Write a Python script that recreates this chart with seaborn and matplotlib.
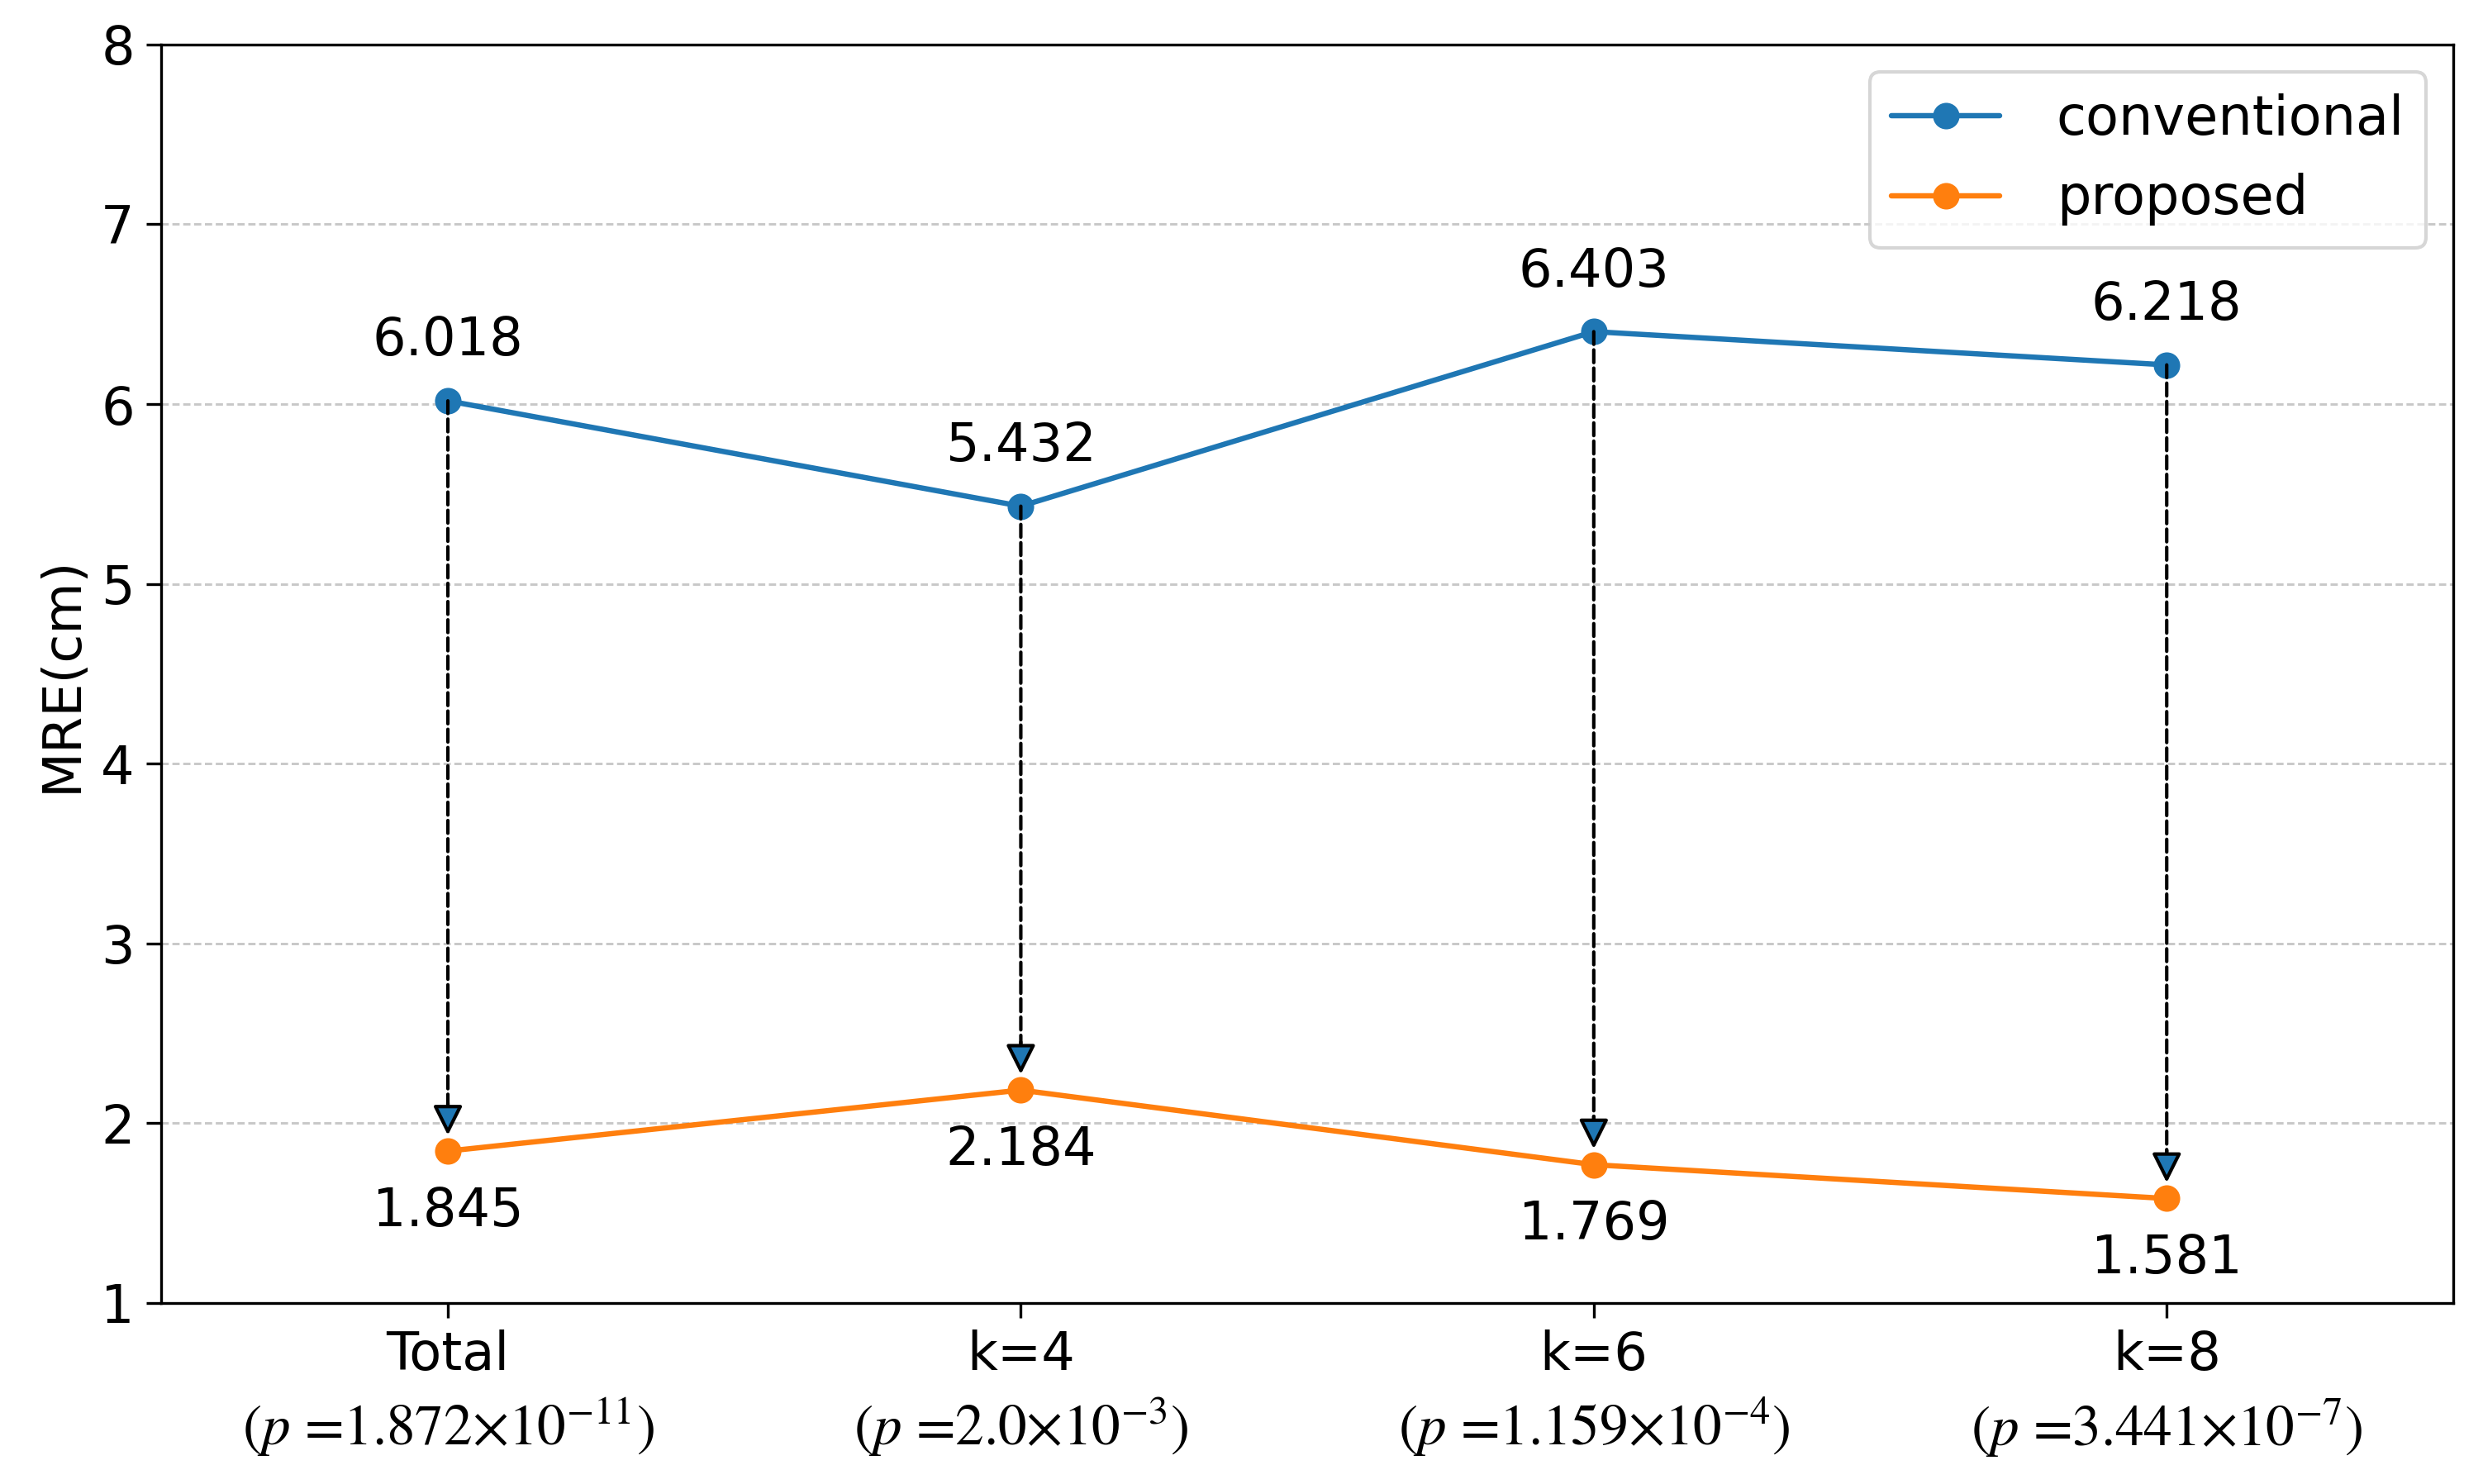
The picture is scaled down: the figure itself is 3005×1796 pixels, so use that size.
import numpy as np
import pandas as pd
import matplotlib
matplotlib.use("Agg")
import matplotlib.pyplot as plt
import seaborn as sns

# ---- data ----
categories = ["Total", "k=4", "k=6", "k=8"]
p_labels = [
    r"($p$ =1.872×10$^{-11}$)",
    r"($p$ =2.0×10$^{-3}$)",
    r"($p$ =1.159×10$^{-4}$)",
    r"($p$ =3.441×10$^{-7}$)",
]
conventional = [6.018, 5.432, 6.403, 6.218]
proposed = [1.845, 2.184, 1.769, 1.581]
series_names = ["conventional", "proposed"]
y_ticks = [1, 2, 3, 4, 5, 6, 7, 8]
colors = ["#1f77b4", "#ff7f0e"]

sns.set_style("ticks")
plt.rcParams["font.family"] = ["DejaVu Sans"]
plt.rcParams["mathtext.fontset"] = "stix"
for k in ["text.color", "axes.labelcolor", "xtick.color", "ytick.color", "axes.edgecolor"]:
    plt.rcParams[k] = "black"

FS = 15.3

fig, ax = plt.subplots(figsize=(3005 / 300, 1796 / 300), dpi=300)
fig.subplots_adjust(left=0.065, right=0.988, top=0.970, bottom=0.122)

pos = list(range(len(categories)))
df = pd.DataFrame({
    "pos": pos * 2,
    "MRE": conventional + proposed,
    "method": [series_names[0]] * len(pos) + [series_names[1]] * len(pos),
})

sns.lineplot(data=df, x="pos", y="MRE", hue="method", palette=colors,
             marker="o", markersize=7.7, markeredgewidth=0, linewidth=1.55,
             ax=ax, zorder=2)

# arrows from conventional to proposed
for i in pos:
    ax.annotate("", xy=(i, proposed[i]), xytext=(i, conventional[i]),
                arrowprops=dict(arrowstyle="-", linestyle="--", color="black",
                                lw=1.0, shrinkA=0, shrinkB=4.6 + 6.5),
                zorder=3)
    ax.annotate("", xy=(i, proposed[i]), xytext=(0, 14), textcoords="offset points",
                arrowprops=dict(arrowstyle="-|>", mutation_scale=18, lw=1.0,
                                fc=colors[0], ec="black", shrinkA=0, shrinkB=4.6),
                zorder=3)

# value labels
for i in pos:
    ax.annotate(f"{conventional[i]:.3f}", xy=(i, conventional[i]), xytext=(0, 10),
                textcoords="offset points", ha="center", va="bottom", fontsize=FS)
    ax.annotate(f"{proposed[i]:.3f}", xy=(i, proposed[i]), xytext=(0, -10),
                textcoords="offset points", ha="center", va="top", fontsize=FS)

ax.set_xlim(-0.5, 3.5)
ax.set_ylim(1, 8)
ax.set_yticks(y_ticks)
ax.set_xticks(pos)
ax.set_xticklabels(categories, fontsize=FS)
# second line of each x tick label: p-values in a serif face
for i, pl in zip(pos, p_labels):
    ax.text(i, -0.113, pl, transform=ax.get_xaxis_transform(), ha="center",
            va="baseline", fontsize=16.6, family="STIXGeneral")
ax.tick_params(axis="both", labelsize=FS, length=4.3, width=0.8, color="black")
ax.set_xlabel("")
ax.set_ylabel("MRE(cm)", fontsize=FS)
ax.yaxis.grid(True, linestyle=(0, (3, 1.5)), color="#c8c8c8", linewidth=0.7)
ax.xaxis.grid(False)
for sp in ax.spines.values():
    sp.set_visible(True)
    sp.set_color("black")
    sp.set_linewidth(0.8)

handles, labels = ax.get_legend_handles_labels()
ax.legend(handles, labels, loc="upper right", fontsize=15.7, frameon=True,
          labelspacing=0.5, handletextpad=1.05, handlelength=2.0)

fig.savefig("out.png", dpi=300)
